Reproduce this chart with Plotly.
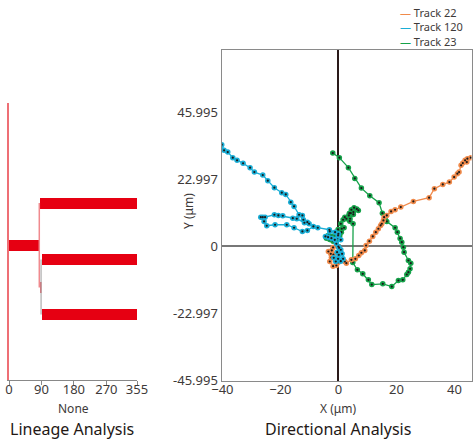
import plotly.graph_objects as go

# ---------------------------------------------------------------------------
# Lineage tree (left): one horizontal bar per cell, start/end in frames
# ---------------------------------------------------------------------------
cell_row = [177, 135, 120.5, 92.5, 65.5]
cell_start = [86, 0, 92, 86, 92]
cell_end = [355, 86, 355, 92, 355]
# sibling connectors: (x, y_from, y_to)
link_pink = (84, 177, 92.5)
link_grey = (89, 120.5, 65.5)
lineage_ticks = [0, 90, 180, 270, 355]

# ---------------------------------------------------------------------------
# Tracks (right), x / y in um relative to start
# ---------------------------------------------------------------------------
t22_x = [0, -1.83, -3.45, -2.28, -2.62, -1.72, -2.41, -2.97, -1.83, -0.69, -1.14, -0.1,
         2.21, 2.76, 4.48, 5.86, 7.03, 7.93, 9.1, 9.55, 10.69, 11.86, 12.9, 13.79, 14.55,
         14.97, 15.52, 15.76, 16.69, 18.17, 19.55, 21.52, 25.86, 31.28, 33.1, 36.0, 38.28,
         39.9, 41.03, 41.62, 42.31, 42.9, 44.28, 43.69, 44.48, 45.66]
t22_y = [0, -0.34, -1.72, -1.37, -2.51, -2.75, -3.78, -5.15, -6.77, -6.53, -4.23, -5.5,
         -5.15, -5.74, -4.57, -4.23, -3.09, -2.16, -1.37, 0.34, 1.82, 3.44, 4.91, 6.08, 7.22,
         7.8, 8.93, 10.07, 10.65, 12.03, 12.61, 13.51, 15.46, 16.74, 19.83, 21.31, 22.1,
         23.81, 24.98, 25.53, 27.84, 28.63, 28.97, 29.55, 30.14, 30.48]

t120_x = [0, 0.83, -0.45, 0.14, 1.28, 1.62, 0.83, -0.9, -1.59, -0.1, 0.24, -0.69, 0.83,
          -0.1, -1.24, -2.41, -3.55, -4.48, -2.97, -1.14, 0, -3.1, -7.1, -8.62, -10.69,
          -12.41, -15.28, -17.79, -21.83, -24.69, -25.62, -26.76, -26.07, -25.28, -22.07,
          -20.69, -19.17, -15.72, -14.34, -11.72, -10.1, -10.69, -12.07, -12.41, -13.55,
          -15.28, -16.41, -18.14, -19.52, -22.07, -24.34, -26.07, -28.97, -30.45, -32.86,
          -34.93, -36.41, -38.14, -39.41, -40.21]
t120_y = [0, -1.13, -1.96, -2.85, -2.51, -4.23, -5.05, -5.15, -3.88, -4.23, -0.45, 0.93,
          2.3, 3.78, 2.3, 2.85, 3.2, 3.44, 5.15, 4.91, 4.36, 5.74, 6.43, 6.87, 5.5, 5.15,
          6.43, 7.46, 7.46, 7.11, 8.59, 10.07, 10.07, 10.07, 10.89, 10.65, 10.55, 9.73, 9.52,
          8.14, 7.8, 8.35, 9.18, 10.65, 10.89, 13.75, 15.22, 17.87, 18.45, 20.17, 22.58,
          24.5, 25.53, 27.04, 28.52, 29.55, 30.48, 32.41, 32.99, 34.95]

t23_x = [0, -0.79, -1.83, -2.97, -4.14, -3.55, -2.41, -1.14, 0.48, 1.03, -0.1, 1.17, 1.97,
         0.83, 1.62, 2.21, 2.76, 3.59, 4.28, 4.48, 5.41, 6.34, 6.9, 5.17, 3.79, 5.17, 4.03,
         3.93, 5.07, 4.97, 6.55, 8.41, 10.34, 11.52, 15.31, 18.41, 20.69, 22.21, 23.59,
         24.14, 24.72, 24.97, 24.14, 22.66, 22.41, 21.86, 21.28, 20.34, 19.55, 16.69, 16.1,
         15.17, 14.03, 10.83, 7.93, 5.66, 3.45, 0.34, -1.93]
t23_y = [0, 1.72, 1.82, 2.41, 2.85, 3.78, 3.44, 4.12, 3.78, 4.91, 5.84, 6.08, 6.43, 7.8,
         9.18, 10.07, 9.52, 10.65, 11.44, 12.61, 13.3, 12.89, 12.37, 11.79, 11.44, 11.0,
         9.52, 8.69, 7.8, -5.5, -8.01, -9.38, -11.44, -13.06, -12.82, -13.75, -11.68, -11.44,
         -9.62, -8.83, -7.66, -5.74, -4.81, -1.96, -0.24, 1.48, 2.75, 4.91, 6.43, 8.59, 9.52,
         11.44, 15.02, 17.42, 20.03, 23.37, 27.04, 30.48, 32.06]

track_names = ["Track 22", "Track 120", "Track 23"]
track_colors = ["#F08A4B", "#1AAED6", "#16A24A"]
y_ticks = [45.995, 22.997, 0, -22.997, -45.995]
y_tick_text = ["45.995", "22.997", "0", "-22.997", "-45.995"]
x_ticks = [-40, -20, 0, 20, 40]

W, H = 473, 439
FONT = "Noto Sans"
TXT = "#3e3a39"


def px(x):
    return x / W


def py(y):
    return 1 - y / H


fig = go.Figure()

# lineage bars
fig.add_trace(go.Bar(
    y=cell_row,
    x=[e - s for s, e in zip(cell_start, cell_end)],
    base=cell_start,
    orientation="h",
    width=11,
    marker=dict(color="#E60012", line=dict(width=0)),
    xaxis="x", yaxis="y",
    showlegend=False,
))
for (lx, y0, y1), col in [(link_pink, "#F08A8E"), (link_grey, "#BDBDBD")]:
    fig.add_trace(go.Scatter(
        x=[lx, lx], y=[y0, y1], mode="lines",
        line=dict(color=col, width=1.5),
        xaxis="x", yaxis="y", showlegend=False,
    ))

# tracks (green drawn first, blue last)
tracks = {
    "Track 22": (t22_x, t22_y),
    "Track 120": (t120_x, t120_y),
    "Track 23": (t23_x, t23_y),
}
colors = dict(zip(track_names, track_colors))
for name in ["Track 23", "Track 22", "Track 120"]:
    tx, ty = tracks[name]
    fig.add_trace(go.Scatter(
        x=tx, y=ty, mode="lines+markers", name=name,
        line=dict(color=colors[name], width=1.3),
        marker=dict(color=colors[name], size=5.5),
        xaxis="x2", yaxis="y2", showlegend=False,
    ))
    fig.add_trace(go.Scatter(
        x=tx, y=ty, mode="markers",
        marker=dict(color="#1a1a1a", size=2.2),
        xaxis="x2", yaxis="y2", showlegend=False, hoverinfo="skip",
    ))

# compact legend as one multi-line text block
legend_text = "<br>".join(
    f"<span style='color:{c}'>—</span> {n}" for n, c in zip(track_names, track_colors)
)

annotations = [
    dict(text="None", x=px(73), y=py(408), font=dict(size=12, color=TXT)),
    dict(text="Lineage Analysis", x=px(72), y=py(429), font=dict(size=16, color="#231815")),
    dict(text="Directional Analysis", x=px(338), y=py(429), font=dict(size=16, color="#231815")),
    dict(text="X (μm)", x=px(338), y=py(408), font=dict(size=12, color=TXT)),
    dict(text="Y (μm)", x=px(188), y=py(211), textangle=-90, font=dict(size=12, color=TXT)),
    dict(text=legend_text, x=px(398), y=py(3), xanchor="left", yanchor="top",
         align="left", font=dict(size=11, color=TXT)),
]
for a in annotations:
    a.update(xref="paper", yref="paper", showarrow=False)
    a.setdefault("xanchor", "center")
    a.setdefault("yanchor", "middle")

fig.update_layout(
    width=W, height=H,
    margin=dict(l=0, r=0, t=0, b=0),
    paper_bgcolor="white", plot_bgcolor="white",
    font=dict(family=FONT, size=13, color=TXT),
    bargap=0,
    xaxis=dict(
        domain=[px(9), px(137)], range=[0, 355], automargin=False,
        tickvals=lineage_ticks, ticks="outside", ticklen=4, tickcolor="#888",
        ticklabelstandoff=-7, ticklabeloverflow="allow",
        showline=True, linecolor="#888", linewidth=1,
        showgrid=False, zeroline=False, tickfont=dict(size=13),
    ),
    yaxis=dict(
        domain=[py(380), py(103)], range=[0, 277], automargin=False,
        showline=True, linecolor="#EE6F75", linewidth=1.5,
        showticklabels=False, ticks="", showgrid=False, zeroline=False,
    ),
    xaxis2=dict(
        domain=[px(221.5), px(471.5)], range=[-40.3, 45.9], anchor="y2",
        automargin=False, tickvals=x_ticks, showgrid=False, ticklabelstandoff=-3,
        showline=True, mirror=True, linecolor="#8a8a8a", linewidth=1,
        zeroline=True, zerolinecolor="#2a1a1a", zerolinewidth=1.5,
        tickfont=dict(size=13),
    ),
    yaxis2=dict(
        domain=[py(380.5), py(49.5)], range=[-45.995, 67.6], anchor="x2",
        automargin=False, tickvals=y_ticks, ticktext=y_tick_text, showgrid=False,
        showline=True, mirror=True, linecolor="#8a8a8a", linewidth=1,
        zeroline=True, zerolinecolor="#777777", zerolinewidth=2,
        tickfont=dict(size=13),
    ),
    annotations=annotations,
)

# the default page has an 8px body margin; drop it so the 473x439 figure fills the window
fig.write_html(
    "out.html",
    config={"displayModeBar": False},
    post_script="document.body.style.margin='0';",
)
